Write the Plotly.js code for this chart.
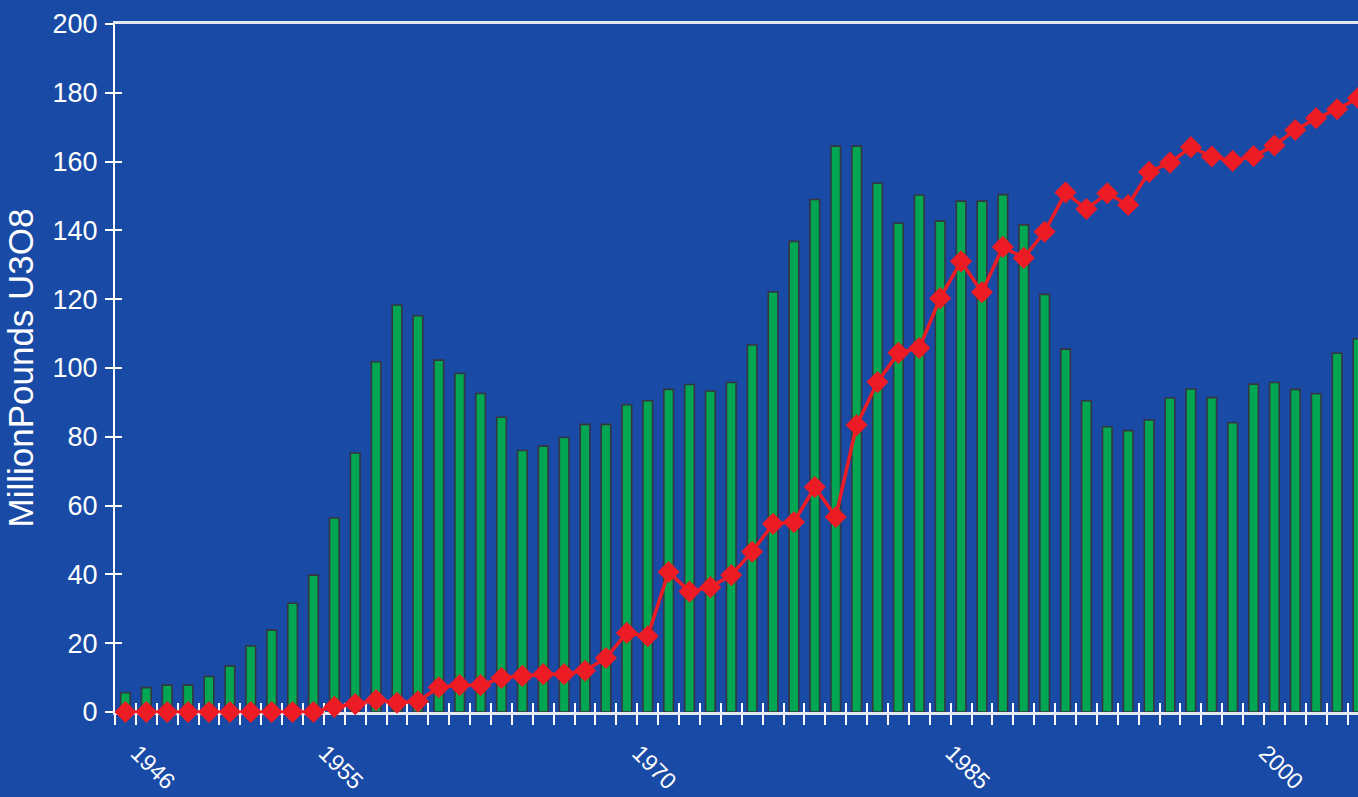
<!DOCTYPE html>
<html>
<head>
<meta charset="utf-8">
<script src="https://cdn.plot.ly/plotly-3.0.1.min.js"></script>
<style>html,body{margin:0;padding:0;background:#184aa6;}#chart{width:1358px;height:797px;}</style>
</head>
<body>
<div id="chart"></div>
<script>
const years = [];
for (let y = 1946; y <= 2005; y++) years.push(y);

const production = [5.6, 7.1, 7.8, 7.8, 10.3, 13.4, 19.2, 23.8, 31.6, 39.8,
  56.4, 75.3, 101.8, 118.3, 115.2, 102.3, 98.4, 92.6, 85.7, 76.0,
  77.3, 79.8, 83.6, 83.6, 89.3, 90.5, 93.8, 95.2, 93.3, 95.8,
  106.7, 122.1, 136.8, 149.0, 164.5, 164.5, 153.7, 142.1, 150.3, 142.7,
  148.5, 148.5, 150.4, 141.6, 121.4, 105.5, 90.5, 82.9, 81.8, 84.9,
  91.3, 93.9, 91.4, 84.1, 95.3, 95.8, 93.8, 92.5, 104.3, 108.5];

const requirements = [0, 0, 0, 0, 0, 0, 0, 0, 0, 0,
  1.5, 2.3, 3.5, 2.7, 3.1, 7.2, 7.8, 7.8, 9.9, 10.5,
  11.0, 11.0, 12.0, 15.7, 23.0, 22.0, 40.7, 35.0, 36.3, 39.8,
  46.6, 54.7, 55.2, 65.4, 56.7, 83.4, 95.9, 104.4, 105.8, 120.3,
  131.0, 122.0, 135.2, 132.0, 139.6, 151.0, 146.2, 150.8, 147.4, 157.0,
  159.7, 164.2, 161.5, 160.2, 161.6, 164.7, 169.2, 172.6, 175.2, 178.5];

const labelYears = [1946, 1955, 1970, 1985, 2000];
const labelText = ['1946', '1955', '1970', '1985', '2000'];
const yTicks = [0, 20, 40, 60, 80, 100, 120, 140, 160, 180, 200];
const yTitle = 'MillionPounds U3O8';

const FONT = 'Liberation Sans, Arial, Helvetica, sans-serif';
const BG = '#184aa6';
const xRange = [1945.5, 2005];
const yRange = [0, 200];

const traces = [
  {
    type: 'bar', x: years, y: production, width: 0.46,
    marker: {color: '#00a651', line: {color: '#34373f', width: 1.6}},
    hoverinfo: 'x+y', showlegend: false
  },
  {
    type: 'scatter', mode: 'lines+markers', x: years, y: requirements,
    line: {color: '#ed1c24', width: 3.5},
    marker: {symbol: 'diamond', size: 17, color: '#ed1c24'},
    cliponaxis: false, showlegend: false
  },
  {type: 'scatter', x: [], y: [], xaxis: 'x2', yaxis: 'y2', showlegend: false},
  {type: 'scatter', x: [], y: [], xaxis: 'x3', yaxis: 'y', showlegend: false}
];

const layout = {
  width: 1358, height: 797,
  margin: {l: 115, r: 0, t: 24, b: 85},
  paper_bgcolor: BG, plot_bgcolor: BG,
  font: {family: FONT, color: '#ffffff', size: 26},
  showlegend: false,
  bargap: 0,
  xaxis: {
    range: xRange, tick0: 0.5, dtick: 1, ticks: 'outside', ticklen: 10, tickwidth: 2,
    tickcolor: '#ffffff', showticklabels: false, showgrid: false, zeroline: false,
    showline: true, linecolor: '#e4e8f2', linewidth: 3, mirror: true, layer: 'below traces',
    fixedrange: true
  },
  xaxis2: {
    overlaying: 'x', anchor: 'y', range: xRange, tick0: 0.5, dtick: 1, ticks: 'inside', ticklen: 9,
    tickwidth: 2, tickcolor: '#ffffff', showticklabels: false, showgrid: false, zeroline: false,
    showline: false, layer: 'below traces', fixedrange: true
  },
  xaxis3: {
    overlaying: 'x', anchor: 'y', range: xRange, tickmode: 'array', tickvals: labelYears, ticktext: labelText,
    ticks: '', tickangle: 45, tickfont: {family: FONT, size: 23, color: '#ffffff'},
    ticklabelstandoff: 22, ticklabelshift: 12, showgrid: false, zeroline: false, showline: false, fixedrange: true
  },
  yaxis: {
    range: yRange, tickmode: 'array', tickvals: yTicks, ticks: 'outside', ticklen: 8, tickwidth: 2,
    tickcolor: '#ffffff', tickfont: {family: FONT, size: 27, color: '#ffffff'}, ticklabelstandoff: 2,
    showgrid: false, zeroline: false, showline: true, linecolor: '#ffffff', linewidth: 2,
    title: {text: yTitle, font: {family: FONT, size: 35, color: '#ffffff'}, standoff: 8},
    fixedrange: true
  },
  yaxis2: {
    overlaying: 'y', anchor: 'x', side: 'left', range: yRange, tickmode: 'array', tickvals: yTicks,
    ticks: 'inside', ticklen: 7, tickwidth: 2, tickcolor: '#ffffff', showticklabels: false,
    showgrid: false, zeroline: false, showline: false, fixedrange: true
  }
};

Plotly.newPlot('chart', traces, layout, {displayModeBar: false, staticPlot: true});
</script>
</body>
</html>
